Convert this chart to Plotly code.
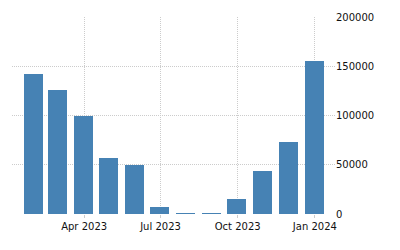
import plotly.graph_objects as go

dates = ["2023-01-31", "2023-02-28", "2023-03-31", "2023-04-30", "2023-05-31", "2023-06-30",
         "2023-07-31", "2023-08-31", "2023-09-30", "2023-10-31", "2023-11-30", "2023-12-31"]
values = [142000, 126000, 100000, 57000, 50000, 7000, 1000, 1000, 15300, 43700, 73200, 155600]
tick_vals = ["2023-04-01", "2023-07-01", "2023-10-01", "2024-01-01"]
tick_text = ["Apr 2023", "Jul 2023", "Oct 2023", "Jan 2024"]

fig = go.Figure(go.Bar(
    x=dates, y=values,
    marker=dict(color="#4682B4", line=dict(width=0)),
    width=22.7 * 86400000,
))

fig.update_layout(
    width=400, height=250,
    margin=dict(l=12, r=65, t=17, b=36),
    paper_bgcolor="white", plot_bgcolor="white",
    font=dict(family="DejaVu Sans", size=10, color="#111"),
    showlegend=False,
    bargap=0,
)
fig.update_xaxes(
    type="date",
    range=["2023-01-05", "2024-01-25"],
    tickvals=tick_vals, ticktext=tick_text,
    showgrid=True, gridcolor="#cccccc", griddash="1px,1px", gridwidth=1,
    showline=False, zeroline=False,
    ticks="outside", ticklen=3, tickcolor="#cccccc", tickwidth=1,
)
fig.update_yaxes(
    side="right",
    range=[0, 200000],
    tickvals=[0, 50000, 100000, 150000, 200000],
    ticktext=["0", "50000", "100000", "150000", "200000"],
    showgrid=True, gridcolor="#cccccc", griddash="1px,1px", gridwidth=1,
    showline=False, zeroline=False, ticks="",
)

fig.write_html("out.html")
